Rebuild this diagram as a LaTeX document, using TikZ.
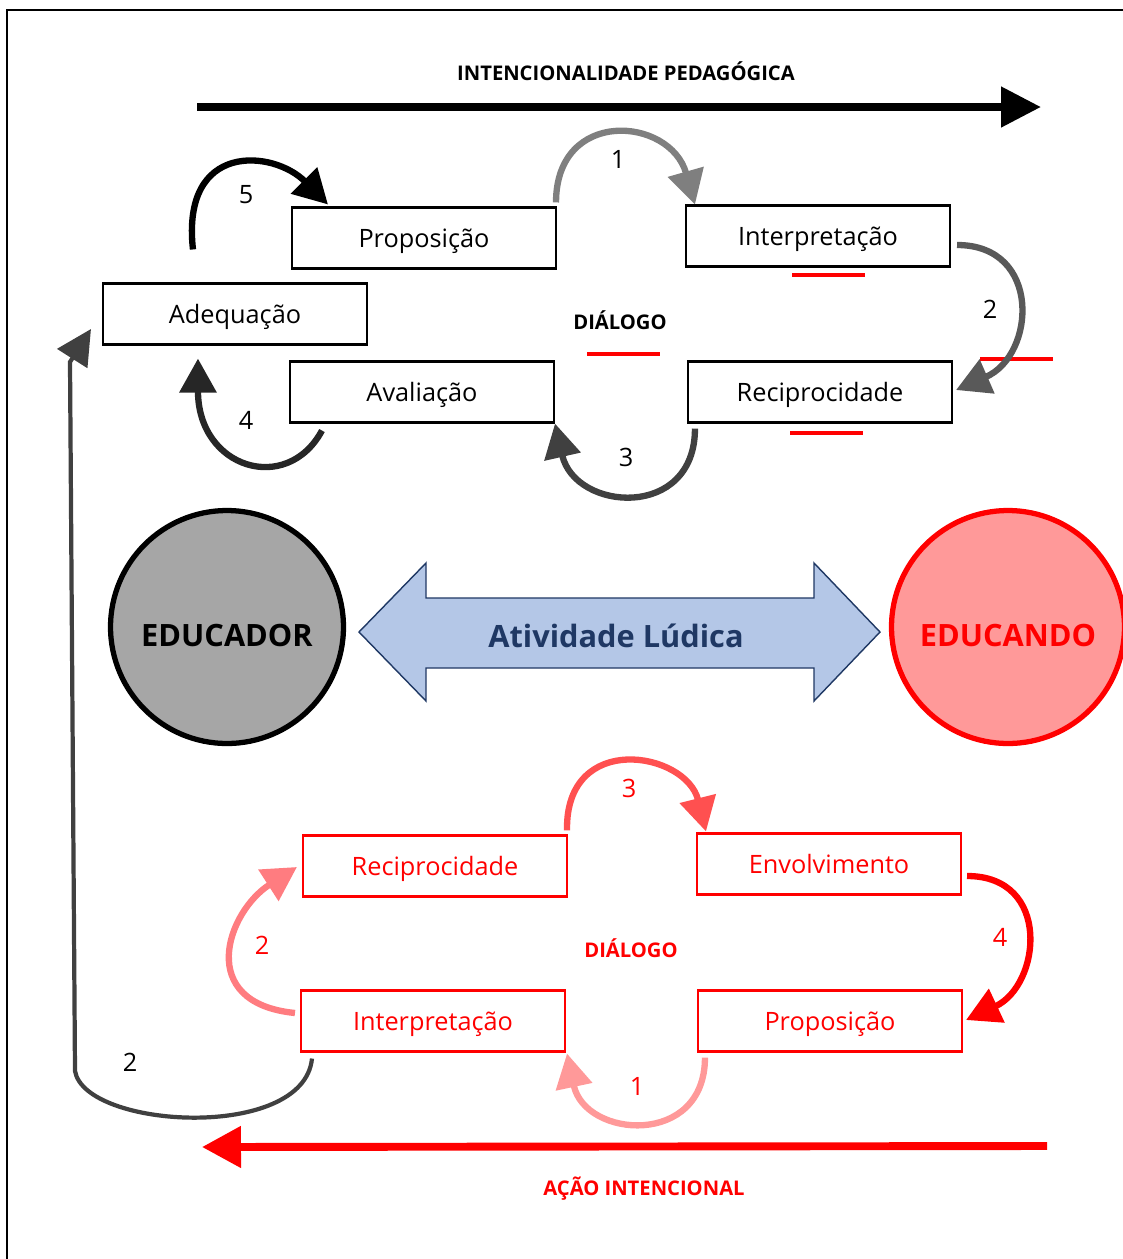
\documentclass[tikz,border=0pt]{standalone}
\usepackage{fontspec}
\setmainfont{Open Sans}
\usetikzlibrary{arrows.meta,calc}

\definecolor{loopA}{HTML}{7F7F7F}
\definecolor{loopB}{HTML}{595959}
\definecolor{loopC}{HTML}{404040}
\definecolor{loopD}{HTML}{262626}
\definecolor{redA}{HTML}{FF5050}
\definecolor{redB}{HTML}{FF9999}
\definecolor{redC}{HTML}{FF7C80}
\definecolor{edugray}{HTML}{A6A6A6}
\definecolor{edupink}{HTML}{FF9999}
\definecolor{ludfill}{HTML}{B4C7E7}
\definecolor{ludline}{HTML}{1F3864}

\tikzset{
  box/.style={draw,line width=1.2pt,minimum width=5.28cm,minimum height=1.22cm,
    inner sep=0pt,text height=10.3pt,text depth=0pt,font=\fontsize{14.4}{17}\selectfont},
  rbox/.style={box,draw=red,text=red},
  loop/.style={line width=3.6pt,-{Triangle[length=0.68cm,width=0.72cm]}},
  num/.style={font=\fontsize{14.4}{17}\selectfont},
  lbl/.style={font=\bfseries\fontsize{11.5}{13}\selectfont},
  uline/.style={red,line width=2.3pt},
  person/.style={circle,line width=3pt,minimum size=4.66cm,inner sep=0pt,
    text height=22.6pt,text depth=0pt,font=\bfseries\fontsize{17.5}{20}\selectfont},
}

\begin{document}
\begin{tikzpicture}[x=0.02cm,y=-0.02cm]
  \useasboundingbox (0,0) rectangle (1123,1259);
  \clip (0,0) rectangle (1123,1259);
  \draw[line width=1pt] (7,1265) -- (7,10) -- (1130,10);

  % intencionalidade
  \node[lbl] (ped) at (626,71) {INTENCIONALIDADE PEDAGÓGICA};
  \coordinate (pedA) at (197,107);
  \coordinate (pedB) at (1041,107);
  \draw[line width=4.5pt,-{Triangle[length=0.8cm,width=0.78cm]}] (pedA) -- (pedB);

  % ciclo do educador
  \node[box] (prop) at (424,238) {Proposição};
  \node[box] (tint) at (818,236) {Interpretação};
  \node[box] (adq) at (235,314) {Adequação};
  \node[box] (aval) at (422,392) {Avaliação};
  \node[box] (trec) at (820,392) {Reciprocidade};
  \node[lbl] (tdia) at (620,320) {DIÁLOGO};

  \draw[uline] ($(tint.south)+(-26,7)$) -- ++(73,0);
  \draw[uline] ($(tdia)+(-33,34)$) -- ++(73,0);
  \draw[uline] ($(trec.north east)+(27,-1)$) -- ++(73,0);
  \draw[uline] ($(trec.south)+(-30,9)$) -- ++(73,0);

  \draw[loop,loopA] ($(prop.north east)+(-1,-4)$) .. controls +(0,-95) and +(-25,-88) .. ($(tint.north west)+(10,0)$);
  \draw[loop,loopB] ($(tint.east)+(6,9)$) .. controls +(85,0) and +(80,-35) .. ($(trec.east)+(3,-2)$);
  \draw[loop,loopC] ($(trec.south west)+(8,5)$) .. controls +(0,92) and +(20,88) .. (aval.south east);
  \draw[loop,loopD] ($(aval.south west)+(33,7)$) .. controls +(-35,65) and +(0,110) .. ($(adq.south west)+(96,13)$);
  \draw[loop,black] ($(adq.north west)+(91,-33)$) .. controls +(-12,-108) and +(-55,-55) .. ($(prop.north west)+(37,-2)$);

  \node[num] (t1) at (618,159) {1};
  \node[num] (t2) at (990,309) {2};
  \node[num] (t3) at (626,457) {3};
  \node[num] (t4) at (246,420) {4};
  \node[num] (t5) at (246,195) {5};

  % educador / educando
  \node[person,draw=black,fill=edugray] (educador) at (227,627) {EDUCADOR};
  \node[person,draw=red,fill=edupink,text=red] (educando) at (1008,627) {EDUCANDO};
  \draw[ludline,fill=ludfill,line width=0.8pt] (359,632) -- (426,563) -- (426,598) -- (814,598)
    -- (814,563) -- (880,632) -- (814,701) -- (814,668) -- (426,668) -- (426,701) -- cycle;
  \node[font=\bfseries\fontsize{17.5}{20}\selectfont,text=ludline] (ativ) at (616,636) {Atividade Lúdica};

  % ciclo do educando
  \node[rbox] (brec) at (435,866) {Reciprocidade};
  \node[rbox] (benv) at (829,864) {Envolvimento};
  \node[rbox] (bint) at (433,1021) {Interpretação};
  \node[rbox] (bprop) at (830,1021) {Proposição};
  \node[lbl,red] (bdia) at (631,948) {DIÁLOGO};

  \draw[loop,redA] ($(brec.north east)+(-1,-4)$) .. controls +(-2,-100) and +(-20,-80) .. ($(benv.north west)+(10,-1)$);
  \draw[loop,red] ($(benv.east)+(5,12)$) .. controls +(85,0) and +(75,-35) .. ($(bprop.east)+(3,-1)$);
  \draw[loop,redB] ($(bprop.south west)+(8,5)$) .. controls +(0,90) and +(18,85) .. ($(bint.south east)+(1,1)$);
  \draw[loop,redC] ($(bint.west)+(-5,-8)$) .. controls +(-100,-10) and +(-70,45) .. ($(brec.west)+(-5,1)$);

  \node[num,red] (b1) at (637,1086) {1};
  \node[num,red] (b2) at (262,945) {2};
  \node[num,red] (b3) at (629,788) {3};
  \node[num,red] (b4) at (1000,937) {4};

  % retorno
  \coordinate (rk) at (75,1071);
  \coordinate (rt) at (70,362);
  \draw[loopC,line width=2.4pt,-{Triangle[length=0.7cm,width=0.7cm]}]
    ($(bint.south west)+(12,6)$) .. controls +(-8,83) and +(10,58) .. (rk) -- (rt) -- ($(adq.west)+(-11,15)$);
  \node[num] (r2) at (130,1062) {2};

  % acao intencional
  \coordinate (acA) at (1047,1146);
  \coordinate (acB) at (202,1147);
  \draw[red,line width=4.5pt,-{Triangle[length=0.78cm,width=0.8cm]}] (acA) -- (acB);
  \node[lbl,red] (acao) at (644,1189) {AÇÃO INTENCIONAL};
\end{tikzpicture}
\end{document}
